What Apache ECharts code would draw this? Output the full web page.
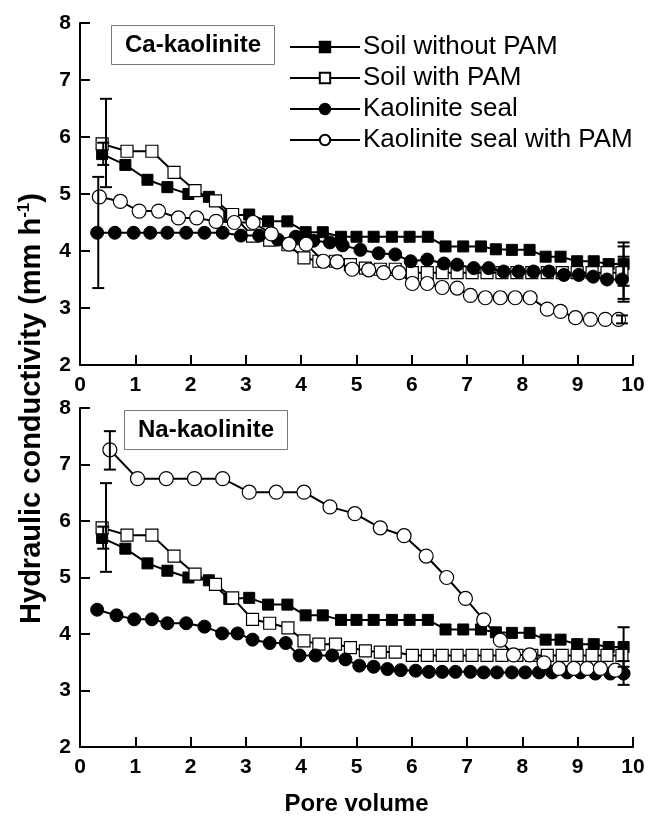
<!DOCTYPE html>
<html><head><meta charset="utf-8">
<script src="https://cdn.jsdelivr.net/npm/echarts@6/dist/echarts.min.js"></script>
<style>html,body{margin:0;padding:0;background:#fff}#c{width:655px;height:817px}</style>
</head><body><div id="c"></div>
<script>
const xTicks = [0,1,2,3,4,5,6,7,8,9,10];
const yTicks = [2,3,4,5,6,7,8];
const seriesNames = ['Soil without PAM','Soil with PAM','Kaolinite seal','Kaolinite seal with PAM'];
const panelLabels = ['Ca-kaolinite','Na-kaolinite'];

// Soil series (same in both panels)
const soilNoPAM = [[0.40,5.70],[0.82,5.51],[1.22,5.25],[1.58,5.12],[1.96,5.00],[2.33,4.95],[2.70,4.62],[3.06,4.64],[3.40,4.52],[3.75,4.52],[4.08,4.33],[4.39,4.33],[4.72,4.25],[5.00,4.25],[5.31,4.25],[5.64,4.25],[5.96,4.25],[6.29,4.25],[6.61,4.08],[6.93,4.08],[7.25,4.08],[7.52,4.03],[7.81,4.02],[8.13,4.02],[8.42,3.90],[8.69,3.90],[8.99,3.82],[9.29,3.82],[9.56,3.77],[9.83,3.77]];
const soilPAM = [[0.40,5.88],[0.85,5.75],[1.30,5.75],[1.70,5.38],[2.08,5.06],[2.45,4.88],[2.76,4.64],[3.12,4.26],[3.43,4.19],[3.76,4.11],[4.05,3.88],[4.32,3.82],[4.62,3.82],[4.89,3.76],[5.16,3.70],[5.43,3.68],[5.70,3.68],[6.01,3.62],[6.28,3.62],[6.55,3.62],[6.82,3.62],[7.09,3.62],[7.36,3.62],[7.63,3.62],[7.90,3.62],[8.17,3.62],[8.45,3.62],[8.72,3.62],[8.99,3.62],[9.26,3.62],[9.53,3.62],[9.80,3.62]];
// Ca-kaolinite panel
const caSeal = [[0.31,4.32],[0.63,4.32],[0.97,4.32],[1.27,4.32],[1.58,4.32],[1.92,4.32],[2.25,4.32],[2.58,4.32],[2.91,4.27],[3.24,4.27],[3.58,4.20],[3.90,4.25],[4.22,4.18],[4.52,4.15],[4.75,4.10],[5.07,4.02],[5.40,3.96],[5.70,3.94],[5.98,3.82],[6.28,3.85],[6.58,3.78],[6.82,3.76],[7.12,3.70],[7.39,3.70],[7.66,3.64],[7.93,3.64],[8.20,3.64],[8.48,3.64],[8.75,3.58],[9.02,3.58],[9.28,3.55],[9.53,3.50],[9.80,3.50]];
const caSealPAM = [[0.35,4.95],[0.73,4.87],[1.07,4.70],[1.42,4.70],[1.78,4.58],[2.11,4.58],[2.46,4.52],[2.79,4.50],[3.13,4.50],[3.46,4.30],[3.78,4.12],[4.09,4.12],[4.40,3.82],[4.65,3.81],[4.92,3.68],[5.22,3.67],[5.49,3.62],[5.77,3.62],[6.01,3.43],[6.28,3.43],[6.55,3.36],[6.82,3.35],[7.06,3.22],[7.33,3.18],[7.60,3.18],[7.87,3.18],[8.14,3.18],[8.45,2.98],[8.69,2.94],[8.96,2.83],[9.23,2.80],[9.50,2.80],[9.74,2.80]];
// Na-kaolinite panel
const naSeal = [[0.31,4.43],[0.66,4.33],[0.98,4.26],[1.30,4.26],[1.58,4.19],[1.92,4.19],[2.25,4.13],[2.57,4.01],[2.85,4.01],[3.12,3.90],[3.43,3.84],[3.72,3.84],[3.97,3.62],[4.26,3.62],[4.56,3.62],[4.80,3.55],[5.05,3.44],[5.31,3.42],[5.56,3.38],[5.80,3.36],[6.07,3.35],[6.31,3.33],[6.55,3.33],[6.79,3.33],[7.06,3.33],[7.30,3.32],[7.54,3.32],[7.81,3.32],[8.05,3.32],[8.30,3.32],[8.54,3.32],[8.81,3.32],[9.05,3.32],[9.32,3.30],[9.59,3.30],[9.83,3.30]];
const naSealPAM = [[0.54,7.26],[1.04,6.75],[1.56,6.75],[2.07,6.75],[2.58,6.75],[3.06,6.51],[3.55,6.51],[4.05,6.51],[4.52,6.25],[4.97,6.13],[5.43,5.88],[5.86,5.74],[6.26,5.38],[6.63,5.00],[6.97,4.63],[7.30,4.25],[7.60,3.89],[7.84,3.63],[8.13,3.63],[8.39,3.49],[8.66,3.39],[8.93,3.39],[9.17,3.39],[9.41,3.39],[9.68,3.36]];
// error bars [x, low, high]
const caErr = [[0.33,3.35,5.30],[0.47,5.12,6.67],[0.42,5.51,5.90],[9.83,3.39,4.15],[9.83,3.16,4.08],[9.83,3.11,3.90],[9.80,2.73,2.87]];
const naErr = [[0.54,6.91,7.59],[0.47,5.10,6.67],[0.42,5.51,5.90],[9.83,3.42,4.12],[9.83,3.10,3.52]];

const FONT = 'Liberation Sans, Arial, sans-serif';
function renderErr(params, api){
  const x = api.value(0), lo = api.value(1), hi = api.value(2);
  const p1 = api.coord([x, lo]), p2 = api.coord([x, hi]);
  const w = 6, st = {stroke:'#000', lineWidth:2};
  return {type:'group', children:[
    {type:'line', shape:{x1:p1[0],y1:p1[1],x2:p2[0],y2:p2[1]}, style:st},
    {type:'line', shape:{x1:p1[0]-w,y1:p1[1],x2:p1[0]+w,y2:p1[1]}, style:st},
    {type:'line', shape:{x1:p2[0]-w,y1:p2[1],x2:p2[0]+w,y2:p2[1]}, style:st}
  ]};
}
const styles = [
  {symbol:'rect', symbolSize:11, itemStyle:{color:'#000', borderColor:'#000', borderWidth:1}},
  {symbol:'rect', symbolSize:12, itemStyle:{color:'#fff', borderColor:'#000', borderWidth:1.2}},
  {symbol:'circle', symbolSize:13, itemStyle:{color:'#000', borderColor:'#000', borderWidth:1}},
  {symbol:'circle', symbolSize:14, itemStyle:{color:'#fff', borderColor:'#000', borderWidth:1.2}}
];
function lineSeries(i, data, idx){
  return Object.assign({
    type:'line', name:seriesNames[i], data:data, xAxisIndex:idx, yAxisIndex:idx,
    showAllSymbol:true, lineStyle:{color:'#000', width:2}, z:3+i, animation:false
  }, styles[i]);
}
function xAx(idx){
  return {type:'value', gridIndex:idx, min:xTicks[0], max:xTicks[xTicks.length-1], interval:1,
    axisLine:{lineStyle:{color:'#000', width:2}},
    axisTick:{inside:true, length:10, lineStyle:{color:'#000', width:2}},
    axisLabel:{color:'#000', fontSize:21, fontWeight:'bold', fontFamily:FONT, margin:10},
    splitLine:{show:false},
    name: idx===1 ? 'Pore volume' : '', nameLocation:'middle', nameGap:45,
    nameTextStyle:{color:'#000', fontSize:24, fontWeight:'bold', fontFamily:FONT}};
}
function yAx(idx){
  return {type:'value', gridIndex:idx, min:yTicks[0], max:yTicks[yTicks.length-1], interval:1,
    axisLine:{lineStyle:{color:'#000', width:2}},
    axisTick:{inside:true, length:10, lineStyle:{color:'#000', width:2}},
    axisLabel:{color:'#000', fontSize:21, fontWeight:'bold', fontFamily:FONT, margin:9},
    splitLine:{show:false}};
}
const chart = echarts.init(document.getElementById('c'), null, {renderer:'canvas'});
const boxTitle = (text, left, top) => ({text:text, left:left, top:top, padding:[8,14],
  borderColor:'#777', borderWidth:1,
  textStyle:{color:'#000', fontSize:24, fontWeight:'bold', fontFamily:FONT, lineHeight:24}});
chart.setOption({
  backgroundColor:'#fff', animation:false,
  title:[boxTitle(panelLabels[0],111,25), boxTitle(panelLabels[1],124,410)],
  grid:[{left:80, top:23, width:553, height:342},{left:80, top:408, width:553, height:343}],
  xAxis:[xAx(0), xAx(1)], yAxis:[yAx(0), yAx(1)],
  legend:{data:seriesNames, orient:'vertical', left:284, top:29, itemWidth:70, itemHeight:13, itemGap:5,
    textStyle:{color:'#000', fontSize:26, fontFamily:FONT, lineHeight:26, padding:[0,0,0,-2]}, selectedMode:false},
  graphic:[{type:'text', left:16, top:'center', rotation:Math.PI/2,
    style:{text:'{a|Hydraulic conductivity (mm h}{s|-1}{a|)}', rich:{a:{fontSize:29, fontWeight:'bold', fontFamily:FONT, fill:'#000'}, s:{fontSize:17, fontWeight:'bold', fontFamily:FONT, fill:'#000', verticalAlign:'top', padding:[0,0,14,0]}}}}],
  series:[
    lineSeries(0, soilNoPAM, 0), lineSeries(1, soilPAM, 0), lineSeries(2, caSeal, 0), lineSeries(3, caSealPAM, 0),
    {type:'custom', renderItem:renderErr, data:caErr, xAxisIndex:0, yAxisIndex:0, encode:{x:0, y:[1,2]}, z:10},
    lineSeries(0, soilNoPAM, 1), lineSeries(1, soilPAM, 1), lineSeries(2, naSeal, 1), lineSeries(3, naSealPAM, 1),
    {type:'custom', renderItem:renderErr, data:naErr, xAxisIndex:1, yAxisIndex:1, encode:{x:0, y:[1,2]}, z:10}
  ]
});
</script></body></html>
